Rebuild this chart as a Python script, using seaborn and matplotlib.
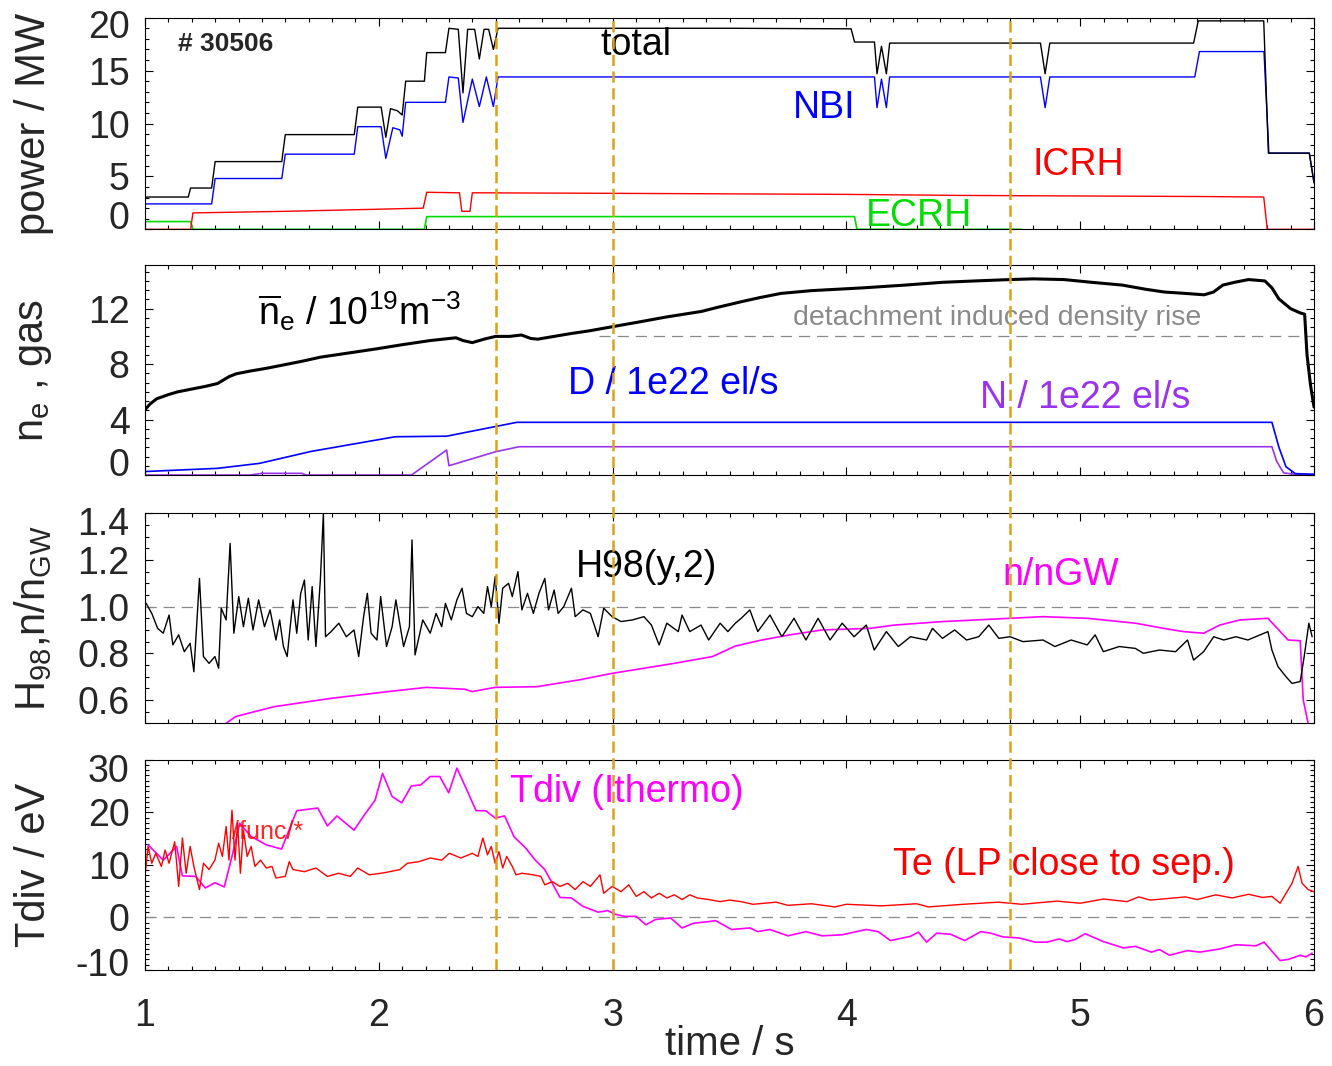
import numpy as np
import matplotlib
matplotlib.use("Agg")
import matplotlib.pyplot as plt
import matplotlib.transforms as mtransforms
from matplotlib.ticker import MultipleLocator, FixedLocator, FormatStrFormatter
import seaborn as sns

# ---------------- heating power (MW) ----------------
total_t = [1.0, 1.185, 1.195, 1.285, 1.30, 1.585, 1.60, 1.895, 1.91, 2.01, 2.03, 2.05, 2.08, 2.10,
           2.115, 2.195, 2.205, 2.285, 2.30, 2.34, 2.36, 2.38, 2.41, 2.43, 2.45, 2.47, 2.49, 2.51,
           3.0, 3.5, 4.02, 4.035, 4.12, 4.131, 4.15, 4.171, 4.185, 4.83, 4.85, 4.87,
           5.485, 5.505, 5.785, 5.805, 5.98, 6.0]
total_p = [3.05, 3.05, 3.9, 3.9, 6.4, 6.4, 8.95, 8.95, 11.55, 11.55, 8.7, 11.4, 11.2, 10.8,
           14.0, 14.0, 16.7, 16.7, 19.0, 18.9, 12.9, 18.9, 18.9, 16.1, 18.9, 18.9, 17.0, 19.0,
           19.0, 19.0, 18.95, 17.7, 17.7, 14.7, 17.3, 14.7, 17.6, 17.6, 14.7, 17.6,
           17.6, 19.7, 19.7, 7.2, 7.2, 4.4]

nbi_t = [1.0, 1.285, 1.30, 1.585, 1.60, 1.895, 1.91, 2.01, 2.03, 2.06, 2.09, 2.10, 2.115, 2.285,
         2.30, 2.34, 2.36, 2.40, 2.43, 2.46, 2.49, 2.51, 3.5, 4.12, 4.131, 4.15, 4.171, 4.185,
         4.83, 4.85, 4.87, 5.49, 5.51, 5.786, 5.807, 5.98, 6.0]
nbi_p = [2.4, 2.4, 4.8, 4.8, 7.1, 7.1, 9.7, 9.7, 6.7, 9.6, 9.4, 8.8, 12.0, 12.0,
         14.4, 14.3, 10.1, 14.2, 11.6, 14.4, 11.6, 14.4, 14.4, 14.4, 11.5, 14.2, 11.5, 14.4,
         14.4, 11.5, 14.4, 14.4, 16.8, 16.8, 7.2, 7.2, 4.4]

icrh_t = [1.0, 1.195, 1.205, 1.6, 2.0, 2.19, 2.205, 2.345, 2.355, 2.39, 2.40, 3.0, 3.5, 4.0,
          4.5, 5.0, 5.5, 5.785, 5.80, 6.0]
icrh_p = [0.0, 0.0, 1.55, 1.7, 1.9, 2.0, 3.5, 3.45, 1.7, 1.7, 3.45, 3.4, 3.35, 3.3,
          3.2, 3.15, 3.1, 3.05, 0.0, 0.0]

ecrh_t = [1.0, 1.195, 1.205, 2.195, 2.205, 4.035, 4.045, 4.75]
ecrh_p = [0.73, 0.73, 0.0, 0.0, 1.2, 1.2, 0.0, 0.0]

# ---------------- density and gas puff ----------------
ne_t = [1.00, 1.02, 1.05, 1.10, 1.14, 1.20, 1.26, 1.31, 1.36, 1.39, 1.45, 1.52, 1.58, 1.67,
        1.75, 1.83, 1.91, 1.99, 2.10, 2.22, 2.33, 2.36, 2.40, 2.45, 2.50, 2.56, 2.61, 2.65,
        2.68, 2.75, 2.82, 2.90, 3.00, 3.10, 3.23, 3.38, 3.45, 3.55, 3.63, 3.72, 3.85, 4.07,
        4.25, 4.41, 4.55, 4.70, 4.80, 4.93, 5.05, 5.18, 5.28, 5.36, 5.45, 5.53, 5.57, 5.61,
        5.66, 5.72, 5.79, 5.82, 5.85, 5.90, 5.94, 5.96, 5.97, 5.985, 6.00]
ne_v = [4.7, 5.1, 5.5, 5.8, 6.0, 6.2, 6.4, 6.6, 7.1, 7.3, 7.5, 7.7, 7.9, 8.2,
        8.5, 8.7, 8.9, 9.1, 9.4, 9.7, 9.9, 9.7, 9.55, 9.8, 10.0, 10.0, 10.1, 9.85,
        9.8, 10.0, 10.2, 10.4, 10.7, 11.0, 11.4, 11.8, 12.1, 12.5, 12.8, 13.1, 13.3, 13.5,
        13.7, 13.9, 14.0, 14.1, 14.15, 14.1, 13.9, 13.7, 13.4, 13.2, 13.1, 13.0, 13.2, 13.7,
        13.9, 14.1, 14.0, 13.5, 12.7, 12.0, 11.7, 11.6, 8.7, 6.5, 4.9]

d_t = [1.00, 1.31, 1.49, 1.71, 2.07, 2.29, 2.50, 2.59, 5.82, 5.85, 5.88, 5.92, 6.00]
d_v = [0.25, 0.48, 0.84, 1.7, 2.76, 2.8, 3.5, 3.8, 3.8, 2.0, 0.6, 0.1, 0.05]

n_t = [1.00, 1.45, 1.50, 1.67, 1.69, 2.14, 2.24, 2.29, 2.30, 2.50, 2.60, 5.82, 5.84, 5.87,
       5.92, 6.00]
n_v = [0.0, 0.0, 0.12, 0.12, 0.0, 0.0, 1.2, 1.8, 0.67, 1.68, 2.04, 2.04, 1.0, 0.15,
       0.05, 0.05]

# ---------------- confinement and Greenwald fraction ----------------
h98_t = [1.005, 1.029, 1.054, 1.078, 1.103, 1.119, 1.144, 1.168, 1.193, 1.209, 1.233, 1.250,
         1.274, 1.299, 1.315, 1.326, 1.347, 1.364, 1.380, 1.401, 1.421, 1.442, 1.462, 1.486,
         1.511, 1.535, 1.560, 1.576, 1.592, 1.608, 1.633, 1.649, 1.666, 1.682, 1.698, 1.715,
         1.731, 1.750, 1.763, 1.772, 1.796, 1.829, 1.861, 1.894, 1.914, 1.935, 1.951, 1.967,
         1.992, 2.008, 2.033, 2.057, 2.073, 2.106, 2.131, 2.142, 2.155, 2.188, 2.220, 2.245,
         2.269, 2.285, 2.310, 2.334, 2.356, 2.375, 2.400, 2.424, 2.449, 2.465, 2.481, 2.498,
         2.514, 2.530, 2.555, 2.571, 2.595, 2.612, 2.636, 2.661, 2.685, 2.710, 2.726, 2.750,
         2.767, 2.791, 2.824, 2.840, 2.873, 2.905, 2.938, 2.962, 2.998, 3.036, 3.085, 3.134,
         3.166, 3.199, 3.232, 3.281, 3.297, 3.330, 3.378, 3.411, 3.460, 3.493, 3.525, 3.55,
         3.587, 3.621, 3.673, 3.724, 3.776, 3.827, 3.879, 3.930, 3.982, 4.033, 4.085, 4.119,
         4.171, 4.222, 4.274, 4.343, 4.368, 4.411, 4.463, 4.514, 4.566, 4.609, 4.652, 4.700,
         4.755, 4.841, 4.892, 4.961, 5.030, 5.064, 5.099, 5.167, 5.236, 5.270, 5.339, 5.408,
         5.459, 5.485, 5.528, 5.571, 5.614, 5.666, 5.717, 5.769, 5.803, 5.820, 5.846, 5.880,
         5.906, 5.941, 5.958, 5.978, 5.992]
h98_v = [1.014, 0.971, 0.907, 0.886, 0.964, 0.836, 0.879, 0.807, 0.843, 0.721, 1.121, 0.786,
         0.757, 0.786, 0.736, 0.993, 0.943, 1.271, 0.886, 1.043, 0.914, 1.036, 0.900, 1.029,
         0.914, 0.986, 0.857, 0.943, 0.829, 0.786, 1.029, 0.886, 1.057, 1.114, 0.857, 1.086,
         0.829, 1.114, 1.400, 0.871, 0.893, 0.929, 0.871, 0.900, 0.786, 0.957, 1.057, 0.886,
         0.857, 1.043, 0.829, 0.914, 1.029, 0.829, 0.914, 1.286, 0.793, 0.943, 0.886, 0.971,
         0.914, 1.014, 0.943, 1.029, 1.079, 0.971, 0.957, 1.000, 0.971, 1.086, 1.000, 1.129,
         0.929, 1.079, 1.100, 1.043, 1.150, 0.986, 1.057, 0.971, 1.057, 1.121, 0.986, 1.071,
         0.971, 1.000, 1.079, 0.957, 0.986, 0.971, 0.871, 0.993, 0.957, 0.936, 0.943, 0.957,
         0.921, 0.836, 0.929, 0.893, 0.964, 0.893, 0.921, 0.857, 0.929, 0.893, 0.929, 0.950,
         0.986, 0.893, 0.964, 0.871, 0.950, 0.857, 0.950, 0.857, 0.929, 0.871, 0.921, 0.814,
         0.893, 0.829, 0.871, 0.857, 0.907, 0.864, 0.900, 0.857, 0.871, 0.921, 0.864, 0.871,
         0.850, 0.857, 0.829, 0.857, 0.836, 0.879, 0.807, 0.829, 0.821, 0.800, 0.814, 0.807,
         0.857, 0.771, 0.807, 0.871, 0.857, 0.871, 0.857, 0.879, 0.893, 0.814, 0.743, 0.700,
         0.671, 0.679, 0.786, 0.929, 0.871]

ngw_t = [1.347, 1.388, 1.551, 1.796, 2.041, 2.204, 2.367, 2.400, 2.498, 2.677, 2.856, 2.998,
         3.264, 3.427, 3.525, 3.638, 3.758, 3.896, 4.102, 4.205, 4.411, 4.700, 4.841, 5.030,
         5.236, 5.356, 5.442, 5.528, 5.597, 5.683, 5.803, 5.889, 5.941, 5.954, 5.975, 5.985]
ngw_v = [0.500, 0.529, 0.571, 0.607, 0.636, 0.654, 0.646, 0.636, 0.654, 0.657, 0.686, 0.714,
         0.757, 0.786, 0.831, 0.857, 0.879, 0.900, 0.907, 0.921, 0.936, 0.950, 0.957, 0.950,
         0.929, 0.907, 0.893, 0.886, 0.921, 0.943, 0.950, 0.857, 0.854, 0.600, 0.500, 0.400]

# ---------------- divertor temperatures (eV) ----------------
tdiv_t = [1.013, 1.078, 1.135, 1.160, 1.217, 1.258, 1.299, 1.339, 1.372, 1.405, 1.454, 1.519,
          1.584, 1.649, 1.739, 1.780, 1.821, 1.894, 1.943, 1.984, 2.016, 2.057, 2.098, 2.139,
          2.179, 2.220, 2.261, 2.299, 2.334, 2.375, 2.416, 2.457, 2.498, 2.538, 2.579, 2.628,
          2.669, 2.710, 2.742, 2.775, 2.824, 2.873, 2.938, 2.979, 3.011, 3.052, 3.101, 3.142,
          3.183, 3.248, 3.297, 3.346, 3.411, 3.44, 3.509, 3.587, 3.621, 3.673, 3.750, 3.827,
          3.896, 3.982, 4.085, 4.136, 4.188, 4.274, 4.308, 4.343, 4.386, 4.446, 4.506, 4.575,
          4.618, 4.669, 4.738, 4.807, 4.858, 4.910, 4.944, 4.978, 5.021, 5.099, 5.185, 5.236,
          5.305, 5.339, 5.382, 5.459, 5.511, 5.597, 5.666, 5.752, 5.786, 5.855, 5.889, 5.941,
          5.966, 5.992]
tdiv_v = [13.8, 10.9, 13.5, 7.9, 7.8, 5.6, 6.6, 5.8, 11.6, 17.9, 15.4, 13.8,
          13.0, 20.3, 20.8, 17.4, 19.3, 16.6, 19.8, 22.3, 27.4, 23.0, 21.8, 25.0,
          25.2, 26.8, 26.8, 23.7, 28.4, 24.4, 20.3, 20.3, 18.9, 19.3, 15.3, 13.2,
          10.9, 9.1, 6.5, 3.8, 3.7, 2.1, 1.0, 1.3, 0.6, 0.2, 0.2, -1.4,
          -0.4, -0.1, -2.0, -1.1, -0.8, -0.6, -2.3, -2.0, -2.7, -2.3, -3.5, -2.7,
          -3.5, -3.3, -2.3, -2.7, -4.4, -3.6, -2.8, -4.7, -3.0, -3.2, -4.4, -2.7,
          -3.0, -3.7, -3.9, -4.7, -4.7, -4.1, -4.6, -4.2, -3.1, -4.6, -5.8, -5.5,
          -6.6, -6.1, -7.2, -6.3, -6.6, -6.0, -5.2, -5.4, -4.7, -8.2, -8.0, -7.2,
          -7.5, -6.8]

te_t = [1.000, 1.013, 1.029, 1.046, 1.070, 1.086, 1.103, 1.127, 1.144, 1.160, 1.176, 1.193,
        1.209, 1.233, 1.250, 1.274, 1.299, 1.315, 1.331, 1.347, 1.359, 1.372, 1.385, 1.396,
        1.408, 1.421, 1.437, 1.454, 1.470, 1.494, 1.519, 1.543, 1.560, 1.600, 1.617, 1.633,
        1.682, 1.731, 1.780, 1.829, 1.878, 1.910, 1.959, 2.024, 2.090, 2.122, 2.171, 2.220,
        2.269, 2.302, 2.351, 2.400, 2.424, 2.445, 2.465, 2.481, 2.498, 2.514, 2.530, 2.547,
        2.571, 2.587, 2.612, 2.661, 2.693, 2.710, 2.742, 2.775, 2.808, 2.840, 2.873, 2.905,
        2.946, 2.962, 2.998, 3.036, 3.069, 3.101, 3.134, 3.166, 3.199, 3.232, 3.264, 3.297,
        3.330, 3.362, 3.411, 3.460, 3.50, 3.55, 3.60, 3.70, 3.75, 3.85, 3.95, 4.00,
        4.15, 4.30, 4.35, 4.50, 4.65, 4.75, 4.90, 5.00, 5.10, 5.20, 5.25, 5.30,
        5.45, 5.50, 5.58, 5.65, 5.72, 5.78, 5.820, 5.855, 5.906, 5.932, 5.949, 5.975,
        6.000]
te_v = [7.8, 13.5, 10.3, 12.2, 9.7, 12.8, 10.3, 14.4, 5.9, 15.1, 8.4, 13.5,
        9.7, 5.3, 10.3, 9.1, 10.9, 14.1, 11.6, 17.3, 10.9, 20.4, 10.9, 17.9,
        8.4, 16.6, 11.6, 13.5, 9.7, 10.9, 9.4, 9.7, 7.5, 7.8, 10.6, 9.1,
        8.7, 9.4, 7.8, 8.4, 7.8, 9.4, 8.1, 8.5, 9.1, 10.3, 10.6, 11.3,
        10.9, 12.2, 11.3, 12.2, 11.6, 15.1, 11.9, 13.5, 10.3, 12.5, 9.4, 11.6,
        9.7, 8.1, 8.4, 8.1, 7.8, 6.2, 6.8, 5.9, 6.5, 5.3, 6.8, 5.9,
        8.1, 4.6, 5.9, 4.9, 6.2, 4.0, 4.9, 3.7, 4.6, 3.7, 4.3, 3.4,
        4.3, 3.7, 3.4, 3.0, 3.3, 3.0, 2.5, 2.9, 2.3, 2.6, 2.0, 2.5,
        2.2, 2.6, 2.0, 2.5, 2.9, 2.5, 3.1, 2.7, 3.5, 3.0, 3.9, 3.3,
        3.9, 3.4, 4.3, 3.7, 4.4, 3.8, 4.0, 2.7, 6.5, 9.7, 6.5, 5.3,
        4.9]

marker_times = [2.5, 3.0, 4.7]

# ---------------- style ----------------
sns.set_style("ticks")
plt.rcParams.update({
    "font.size": 27,
    "mathtext.fontset": "custom",
    "mathtext.rm": "Liberation Sans",
    "mathtext.it": "Liberation Sans:italic",
    "mathtext.bf": "Liberation Sans:bold",
    "mathtext.default": "regular",
    "axes.unicode_minus": False,
    "axes.linewidth": 0.8,
    "axes.edgecolor": "black",
})
plt.rcParams["font.family"] = ["Liberation Sans", "DejaVu Sans"]

BLACK, BLUE, RED, GREEN = "#000000", "#0000ff", "#ff0000", "#00dd00"
PURPLE, MAGENTA, GOLD, GRAY = "#9933ee", "#ff00ff", "#d9a21b", "#8a8a8a"

W_PX, H_PX = 1332, 1066
fig = plt.figure(figsize=(W_PX / 100, H_PX / 100), dpi=100)
X0, X1 = 145, 1314


def panel(top, bottom):
    return fig.add_axes([X0 / W_PX, 1 - bottom / H_PX, (X1 - X0) / W_PX, (bottom - top) / H_PX])


ax1 = panel(17.7, 229.3)
ax2 = panel(265, 475)
ax3 = panel(513.3, 723.3)
ax4 = panel(759.7, 970)
axes = [ax1, ax2, ax3, ax4]


def trace(ax, t, v, color, lw=1.0, z=2):
    sns.lineplot(x=np.asarray(t), y=np.asarray(v), ax=ax, color=color, linewidth=lw,
                 estimator=None, sort=False, zorder=z)


def gray_dash(ax, y, x0=1.0, x1=6.0):
    ax.hlines(y, x0, x1, colors=GRAY, linewidth=0.9, linestyles=(0, (9, 5.5)), zorder=1)


# power
trace(ax1, ecrh_t, ecrh_p, GREEN, 1.2)
trace(ax1, icrh_t, icrh_p, RED, 1.0)
trace(ax1, nbi_t, nbi_p, BLUE, 1.0)
trace(ax1, total_t, total_p, BLACK, 1.0)
ax1.set_ylim(0, 20)
ax1.yaxis.set_major_locator(FixedLocator([0, 5, 10, 15, 20]))
ax1.yaxis.set_minor_locator(MultipleLocator(1))
ax1.text(1.141, 17.5, "# 30506", fontsize=19, fontweight="bold", va="center")
ax1.text(2.946, 17.4, "total", color=BLACK, va="center")
ax1.text(3.772, 11.5, "NBI", color=BLUE, va="center")
ax1.text(4.794, 6.1, "ICRH", color=RED, va="center")
ax1.text(4.084, 1.3, "ECRH", color=GREEN, va="center", clip_on=True)

# density / gas
gray_dash(ax2, 10.0, 2.94, 6.0)
trace(ax2, n_t, n_v, PURPLE, 1.2)
trace(ax2, d_t, d_v, BLUE, 1.2)
trace(ax2, ne_t, ne_v, BLACK, 2.2)
ax2.set_ylim(0, 15.15)
ax2.yaxis.set_major_locator(FixedLocator([0, 4, 8, 12]))
ax2.yaxis.set_minor_locator(MultipleLocator(4 / 6))
ax2.text(1.483, 10.85, r"$\overline{n}_e$ / 10$^{19}$m$^{-3}$", color=BLACK, va="baseline")
ax2.text(3.772, 11.3, "detachment induced density rise", color=GRAY, fontsize=20.5, va="center")
ax2.text(2.809, 6.6, "D / 1e22 el/s", color=BLUE, va="center")
ax2.text(4.571, 5.55, "N / 1e22 el/s", color=PURPLE, va="center")

# H98 and Greenwald fraction
gray_dash(ax3, 1.0)
trace(ax3, ngw_t, ngw_v, MAGENTA, 1.2)
trace(ax3, h98_t, h98_v, BLACK, 1.0)
ax3.set_ylim(0.5, 1.4)
ax3.yaxis.set_major_locator(FixedLocator([0.6, 0.8, 1.0, 1.2, 1.4]))
ax3.yaxis.set_minor_locator(MultipleLocator(0.05))
ax3.yaxis.set_major_formatter(FormatStrFormatter("%.1f"))
ax3.text(2.843, 1.17, "H98(y,2)", color=BLACK, va="center")
ax3.text(4.666, 1.136, "n/nGW", color=MAGENTA, va="center")

# divertor temperature
gray_dash(ax4, 0.0)
trace(ax4, tdiv_t, tdiv_v, MAGENTA, 1.2)
trace(ax4, te_t, te_v, RED, 1.0)
ax4.set_ylim(-10, 30)
ax4.yaxis.set_major_locator(FixedLocator([-10, 0, 10, 20, 30]))
ax4.yaxis.set_minor_locator(MultipleLocator(1))
ax4.text(2.561, 23.85, "Tdiv (Ithermo)", color=MAGENTA, va="center")
ax4.text(4.199, 10.0, "Te (LP close to sep.)", color=RED, va="center")
ax4.text(1.372, 16.2, "/func/*", color=RED, fontsize=18, va="center", alpha=0.85)

ylabels = ["power / MW", r"n$_e$ , gas", r"H$_{98}$,n/n$_{GW}$", "Tdiv / eV"]
for ax, lab in zip(axes, ylabels):
    ax.set_xlim(1, 6)
    ax.xaxis.set_major_locator(FixedLocator([1, 2, 3, 4, 5, 6]))
    ax.xaxis.set_minor_locator(MultipleLocator(0.1))
    ax.tick_params(which="both", direction="in", top=True, right=True, width=0.8,
                   color="black", labelsize=27)
    ax.tick_params(which="major", length=6)
    ax.tick_params(which="minor", length=3)
    ax.tick_params(axis="y", pad=11)
    ax.tick_params(axis="x", pad=20)
    ax.set_xlabel("")
    ax.set_ylabel(lab, fontsize=30)
    ax.yaxis.set_label_coords(-0.078, 0.5)
    for sp in ax.spines.values():
        sp.set_visible(True)
        sp.set_linewidth(0.8)
    if ax is not ax4:
        ax.tick_params(labelbottom=False)

ax4.set_xlabel("time / s", fontsize=29)
ax4.xaxis.set_label_coords(0.5, -0.26)


def nudge(ax, index, dy_px):
    lab = ax.yaxis.get_major_ticks()[index].label1
    off = mtransforms.ScaledTranslation(0, dy_px / 100, fig.dpi_scale_trans)
    lab.set_transform(lab.get_transform() + off)


# keep the outermost tick labels inside the frame height
nudge(ax1, 0, 14)
nudge(ax1, 4, -6)
nudge(ax2, 0, 13)
nudge(ax3, 4, -8)
nudge(ax4, 0, 8)
nudge(ax4, 4, -8)

# time markers crossing all panels
ov = fig.add_axes([X0 / W_PX, 1 - 970 / H_PX, (X1 - X0) / W_PX, (970 - 17.7) / H_PX])
ov.set_xlim(1, 6)
ov.set_ylim(0, 1)
ov.axis("off")
ov.patch.set_alpha(0)
for tm in marker_times:
    ov.axvline(tm, color=GOLD, linewidth=1.8, dashes=(4.5, 2.2))

fig.savefig("out.png", dpi=100)
